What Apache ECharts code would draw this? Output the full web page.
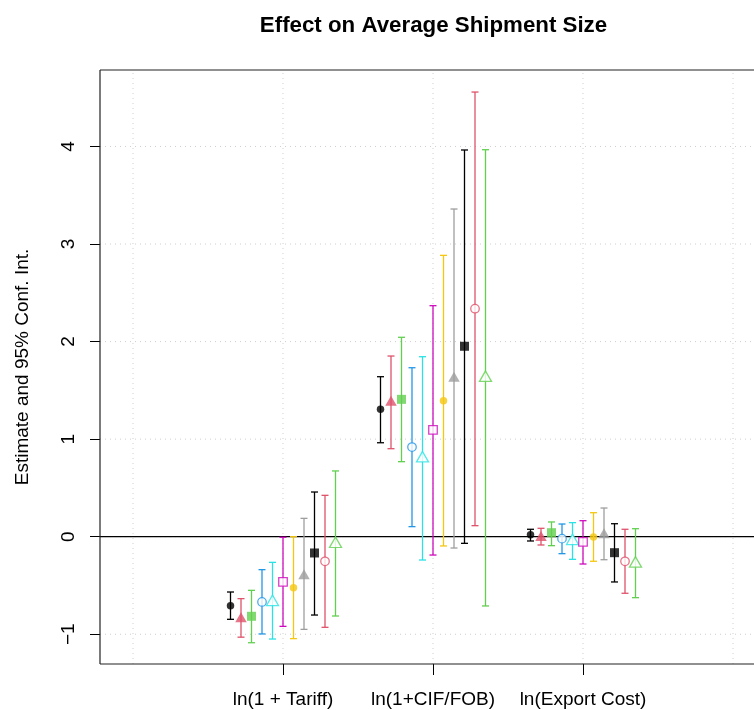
<!DOCTYPE html>
<html>
<head>
<meta charset="utf-8">
<script src="https://cdn.jsdelivr.net/npm/echarts@6/dist/echarts.min.js"></script>
<style>
  html, body { margin: 0; padding: 0; background: #fff; }
  #chart { width: 754px; height: 710px; }
</style>
</head>
<body>
<div id="chart"></div>
<script>
// Coefficient plot: estimates with 95% confidence intervals for eleven models
const categories = ['ln(1 + Tariff)', 'ln(1+CIF/FOB)', 'ln(Export Cost)'];
const yTicks = [-1, 0, 1, 2, 3, 4];
const xGridValues = [0, 1, 2, 3, 4];
const xTickValues = [1, 2, 3];

const modelNames = ['Model 1', 'Model 2', 'Model 3', 'Model 4', 'Model 5', 'Model 6',
                    'Model 7', 'Model 8', 'Model 9', 'Model 10', 'Model 11'];

// point estimates per model, one value per category
const est1  = [-0.707, 1.306,  0.020];
const est2  = [-0.825, 1.394,  0.007];
const est3  = [-0.816, 1.408,  0.041];
const est4  = [-0.669, 0.919, -0.020];
const est5  = [-0.652, 0.820, -0.027];
const est6  = [-0.464, 1.094, -0.054];
const est7  = [-0.523, 1.394, -0.003];
const est8  = [-0.385, 1.640,  0.035];
const est9  = [-0.167, 1.952, -0.164];
const est10 = [-0.252, 2.337, -0.252];
const est11 = [-0.057, 1.645, -0.259];

// lower bounds
const lo1  = [-0.847,  0.963, -0.044];
const lo2  = [-1.030,  0.902, -0.085];
const lo3  = [-1.087,  0.769, -0.092];
const lo4  = [-0.997,  0.103, -0.174];
const lo5  = [-1.049, -0.239, -0.232];
const lo6  = [-0.919, -0.188, -0.280];
const lo7  = [-1.045, -0.095, -0.252];
const lo8  = [-0.950, -0.116, -0.236];
const lo9  = [-0.803, -0.068, -0.464];
const lo10 = [-0.929,  0.113, -0.580];
const lo11 = [-0.813, -0.710, -0.625];

// upper bounds
const hi1  = [-0.567, 1.640, 0.076];
const hi2  = [-0.635, 1.852, 0.086];
const hi3  = [-0.550, 2.044, 0.151];
const hi4  = [-0.338, 1.732, 0.130];
const hi5  = [-0.263, 1.845, 0.144];
const hi6  = [-0.006, 2.368, 0.164];
const hi7  = [ 0.000, 2.884, 0.246];
const hi8  = [ 0.188, 3.359, 0.294];
const hi9  = [ 0.458, 3.964, 0.133];
const hi10 = [ 0.424, 4.558, 0.076];
const hi11 = [ 0.674, 3.967, 0.082];

const estimates = [est1, est2, est3, est4, est5, est6, est7, est8, est9, est10, est11];
const lowers = [lo1, lo2, lo3, lo4, lo5, lo6, lo7, lo8, lo9, lo10, lo11];
const uppers = [hi1, hi2, hi3, hi4, hi5, hi6, hi7, hi8, hi9, hi10, hi11];

// R default palette, recycled
const palette = ['#000000', '#DF536B', '#61D04F', '#2297E6', '#28E2E5', '#CD0BBC',
                 '#F5C710', '#9E9E9E', '#000000', '#DF536B', '#61D04F'];
// marker shapes: filled circle, filled triangle, filled square, open circle, open triangle, open square
const shapes = ['dot', 'tri', 'sq', 'ocirc', 'otri', 'osq', 'dot', 'tri', 'sq', 'ocirc', 'otri'];

// plot region runs past the right edge of the canvas
const X_MIN = -0.22, X_MAX = 4.14;
const Y_MIN = -1.305, Y_MAX = 4.784;
const STEP = 0.07;
const FONT = "'Liberation Sans', Arial, Helvetica, sans-serif";

function markerStyle(kind, color) {
  switch (kind) {
    case 'dot':   return { symbol: 'circle', symbolSize: 7.5, itemStyle: { color: color } };
    case 'tri':   return { symbol: 'triangle', symbolSize: [11.5, 10], itemStyle: { color: color } };
    case 'sq':    return { symbol: 'rect', symbolSize: 9, itemStyle: { color: color } };
    case 'ocirc': return { symbol: 'circle', symbolSize: 8.5, itemStyle: { color: '#fff', borderColor: color, borderWidth: 1.3 } };
    case 'otri':  return { symbol: 'triangle', symbolSize: [12, 10.5], itemStyle: { color: '#fff', borderColor: color, borderWidth: 1.3 } };
    case 'osq':   return { symbol: 'rect', symbolSize: 8.5, itemStyle: { color: '#fff', borderColor: color, borderWidth: 1.3 } };
  }
}

function seg(a, b, style) {
  return { type: 'line', shape: { x1: a[0], y1: a[1], x2: b[0], y2: b[1] }, style: style };
}

const series = [];

// dotted background grid
series.push({
  type: 'custom',
  silent: true,
  z: 0,
  data: xGridValues.map(v => [v, 0]).concat(yTicks.map(v => [1, v])),
  encode: { x: 0, y: 1 },
  renderItem: function (params, api) {
    const style = { stroke: '#cfcfcf', lineWidth: 1, lineDash: [1, 4] };
    if (params.dataIndex < xGridValues.length) {
      const x = api.value(0);
      return seg(api.coord([x, Y_MIN]), api.coord([x, Y_MAX]), style);
    }
    const y = api.value(1);
    return seg(api.coord([X_MIN, y]), api.coord([X_MAX + 1, y]), style);
  }
});

// plot box (left, top, bottom) and reference line at zero
series.push({
  type: 'custom',
  silent: true,
  z: 1,
  clip: false,
  data: [[0, 0]],
  renderItem: function (params, api) {
    const s = { stroke: '#000', lineWidth: 1.2 };
    const b = { stroke: '#222', lineWidth: 1.2 };
    const xr = X_MAX + 1;
    return {
      type: 'group',
      children: [
        seg(api.coord([X_MIN, 0]), api.coord([xr, 0]), s),
        seg(api.coord([X_MIN, Y_MIN]), api.coord([X_MIN, Y_MAX]), b),
        seg(api.coord([X_MIN, Y_MAX]), api.coord([xr, Y_MAX]), b),
        seg(api.coord([X_MIN, Y_MIN]), api.coord([xr, Y_MIN]), b)
      ]
    };
  }
});

estimates.forEach(function (est, k) {
  const offset = (k - 5) * STEP;
  const color = palette[k];
  const barData = categories.map((c, i) => [i + 1 + offset, lowers[k][i], uppers[k][i]]);
  series.push({
    name: modelNames[k],
    type: 'custom',
    z: 2,
    data: barData,
    encode: { x: 0, y: [1, 2] },
    renderItem: function (params, api) {
      const x = api.value(0);
      const top = api.coord([x, api.value(2)]);
      const bot = api.coord([x, api.value(1)]);
      const cap = 3.5;
      const style = { stroke: color, lineWidth: 1.3 };
      return {
        type: 'group',
        children: [
          seg(top, bot, style),
          seg([top[0] - cap, top[1]], [top[0] + cap, top[1]], style),
          seg([bot[0] - cap, bot[1]], [bot[0] + cap, bot[1]], style)
        ]
      };
    }
  });
  const m = markerStyle(shapes[k], color);
  series.push(Object.assign({
    name: modelNames[k],
    type: 'scatter',
    z: 3,
    data: categories.map((c, i) => [i + 1 + offset, est[i]])
  }, m));
});

const chart = echarts.init(document.getElementById('chart'), null, { renderer: 'canvas' });
chart.setOption({
  animation: false,
  backgroundColor: '#ffffff',
  title: {
    text: 'Effect on Average Shipment Size',
    left: 428.5,
    textAlign: 'center',
    top: 10,
    textStyle: { fontFamily: FONT, fontSize: 22.3, fontWeight: 'bold', color: '#000' }
  },
  grid: {
    left: 100, right: 0, top: 70, bottom: 46,
    show: false
  },
  xAxis: {
    type: 'value',
    min: X_MIN, max: X_MAX,
    axisLine: { show: false, onZero: false },
    splitLine: { show: false },
    axisTick: { show: true, customValues: xTickValues, length: 11, lineStyle: { color: '#000', width: 1 } },
    axisLabel: {
      customValues: xTickValues,
      formatter: v => categories[Math.round(v) - 1] || '',
      margin: 26,
      fontFamily: FONT, fontSize: 19, color: '#000'
    }
  },
  yAxis: {
    type: 'value',
    min: Y_MIN, max: Y_MAX,
    name: 'Estimate and 95% Conf. Int.',
    nameLocation: 'middle',
    nameRotate: 90,
    nameGap: 68,
    nameTextStyle: { fontFamily: FONT, fontSize: 19, color: '#000' },
    axisLine: { show: false, onZero: false },
    splitLine: { show: false },
    axisTick: { show: true, customValues: yTicks, length: 10, lineStyle: { color: '#000', width: 1 } },
    axisLabel: {
      customValues: yTicks,
      rotate: 90,
      margin: 22,
      formatter: v => (v < 0 ? '\u2212' + Math.abs(v) : String(v)),
      fontFamily: FONT, fontSize: 19, color: '#000'
    }
  },
  series: series
});
</script>
</body>
</html>
